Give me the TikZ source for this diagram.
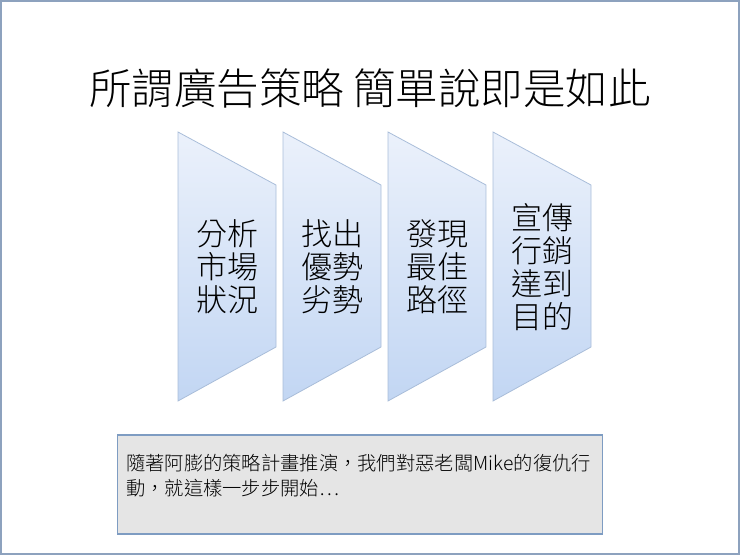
\documentclass[tikz,border=0pt]{standalone}
\usepackage{fontspec}
\setmainfont{Noto Sans CJK TC}[UprightFont=* Light]
\usepackage{tikz}
\usetikzlibrary{positioning}
\definecolor{slideframe}{HTML}{8DA2BE}
\definecolor{chevtop}{HTML}{EBF1FB}
\definecolor{chevbottom}{HTML}{C2D6F3}
\definecolor{chevline}{HTML}{A9BDD9}
\definecolor{notefill}{HTML}{E5E5E5}
\definecolor{noteline}{HTML}{7E9CC2}
\tikzset{
  titletext/.style={inner sep=0pt,font=\fontsize{42.5}{46}\selectfont},
  steptext/.style={inner sep=0pt,align=center,font=\fontsize{31}{33}\selectfont},
  chevron/.style={top color=chevtop,bottom color=chevbottom,draw=chevline,line width=0.8pt},
  notebox/.style={rectangle,draw=noteline,fill=notefill,line width=1.2pt,minimum width=485pt,minimum height=99pt},
  notetext/.style={inner sep=0pt,align=left,font=\fontsize{19.3}{25}\selectfont}
}

\begin{document}
\begin{tikzpicture}[x=1pt,y=-1pt]
        \useasboundingbox (0,0) rectangle (740,555);
        \draw[slideframe,line width=1.5pt] (1,1) rectangle (739,554);
        \node[titletext] (title) at (370,88) {所謂廣告策略 簡單說即是如此};
        % the four steps
        \foreach \x/\name/\words in {178/market/{分析\\市場\\狀況},283/swot/{找出\\優勢\\劣勢},388/route/{發現\\最佳\\路徑},493/promo/{宣傳\\行銷\\達到\\目的}}{
            \shade[chevron] (\x,132) -- (\x+98,185) -- (\x+98,347) -- (\x,401) -- cycle;
            \node[steptext] (\name) at (\x+49,267) {\words};
        }
        % the note at the bottom
        \node[notebox] (note) at (360,484.5) {};
        \node[notetext,anchor=north west] (notetxt) at ([xshift=9pt,yshift=-20pt]note.north west)
            {隨著阿膨的策略計畫推演，我們對惡老闆Mike的復仇行\\動，就這樣一步步開始⋯};
\end{tikzpicture}
\end{document}
